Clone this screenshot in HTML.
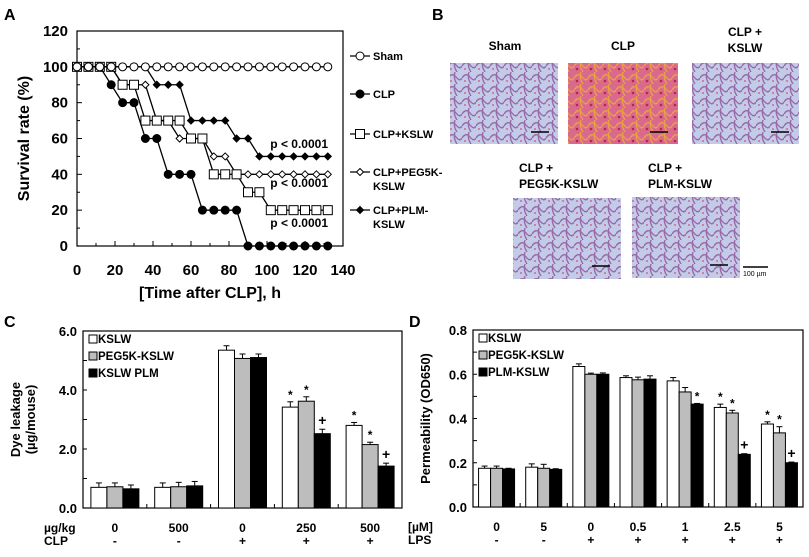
<!DOCTYPE html>
<html><head><meta charset="utf-8"><style>
body{margin:0;background:#fff}
svg{display:block;font-family:"Liberation Sans",Arial,sans-serif;font-weight:bold}
</style></head><body>
<svg id="fig" width="809" height="557" viewBox="0 0 809 557" xmlns="http://www.w3.org/2000/svg">
<defs>
<pattern id="lung" width="14" height="12" patternUnits="userSpaceOnUse">
<rect width="14" height="12" fill="#c2cbe8"/>
<path d="M0 6 Q4 0 8 5 T14 6 M7 0 Q5 6 9 12" stroke="#9a6aa8" stroke-width="1.4" fill="none"/>
<circle cx="3" cy="9" r="1" fill="#d06a8a"/>
</pattern>
<pattern id="lungR" width="14" height="12" patternUnits="userSpaceOnUse">
<rect width="14" height="12" fill="#d96a8e"/>
<path d="M0 6 Q4 0 8 5 T14 6 M7 0 Q5 6 9 12" stroke="#e8a040" stroke-width="1.4" fill="none"/>
<circle cx="3" cy="9" r="1.3" fill="#c02050"/>
</pattern>
</defs>
<g id="panelA"></g>
<g id="panelB">
<text x="432" y="20" font-size="16">B</text>
<text x="505" y="50" font-size="12" text-anchor="middle">Sham</text>
<text x="623" y="50" font-size="12" text-anchor="middle">CLP</text>
<text x="745" y="36" font-size="12" text-anchor="middle"><tspan x="745">CLP +</tspan><tspan x="745" dy="16">KSLW</tspan></text>
<text x="519" y="172" font-size="12"><tspan x="519">CLP +</tspan><tspan x="519" dy="16">PEG5K-KSLW</tspan></text>
<text x="648" y="172" font-size="12"><tspan x="648">CLP +</tspan><tspan x="648" dy="16">PLM-KSLW</tspan></text>
<rect x="450" y="63" width="108" height="81" fill="url(#lung)"/>
<rect x="568" y="63" width="110" height="81" fill="url(#lungR)"/>
<rect x="692" y="63" width="107" height="81" fill="url(#lung)"/>
<rect x="513" y="198" width="108" height="81" fill="url(#lung)"/>
<rect x="632" y="197" width="108" height="81" fill="url(#lung)"/>
<g stroke="#000" stroke-width="1.5">
<line x1="531" y1="132" x2="549" y2="132"/><line x1="650" y1="132" x2="668" y2="132"/><line x1="771" y1="132" x2="789" y2="132"/>
<line x1="592" y1="266" x2="610" y2="266"/><line x1="710" y1="265" x2="728" y2="265"/><line x1="743" y1="267" x2="768" y2="267"/>
</g>
<text x="743" y="276" font-size="7" font-weight="normal">100 µm</text>
</g>
<g id="panelC"></g>
<g id="panelD"></g>
</svg>
<script>
// ---- Panel A data ----
const timesA = [0,6,12,18,24,30,36,42,48,54,60,66,72,78,84,90,96,102,108,114,120,126,132];
const shamA = [100,100,100,100,100,100,100,100,100,100,100,100,100,100,100,100,100,100,100,100,100,100,100];
const clpA  = [100,100,100,90,80,80,60,60,40,40,40,20,20,20,20,0,0,0,0,0,0,0,0];
const kslwA = [100,100,100,100,90,90,70,70,70,70,60,60,40,40,40,30,30,20,20,20,20,20,20];
const pegA  = [100,100,100,100,90,90,90,70,70,60,60,60,50,50,40,40,40,40,40,40,40,40,40];
const plmA  = [100,100,100,100,100,100,100,90,90,90,70,70,70,70,60,60,50,50,50,50,50,50,50];
const xTicksA = [0,20,40,60,80,100,120,140];
const yTicksA = [0,20,40,60,80,100,120];
// ---- Panel C data ----
const groupsC = ["0","500","0","250","500"];
const clpC = ["-","-","+","+","+"];
const kslwC = [0.70,0.70,5.35,3.42,2.80];
const pegC  = [0.72,0.72,5.07,3.62,2.15];
const plmC  = [0.65,0.75,5.10,2.52,1.42];
const errKslwC = [0.15,0.15,0.15,0.18,0.10];
const errPegC  = [0.13,0.15,0.15,0.15,0.08];
const errPlmC  = [0.13,0.15,0.12,0.15,0.10];
const sigC = [["","",""],["","",""],["","",""],["*","*","+"],["*","*","+"]];
const yTicksC = [0,2,4,6];
// ---- Panel D data ----
const groupsD = ["0","5","0","0.5","1","2.5","5"];
const lpsD = ["-","-","+","+","+","+","+"];
const kslwD = [0.175,0.180,0.635,0.585,0.570,0.450,0.375];
const pegD  = [0.175,0.175,0.600,0.575,0.520,0.425,0.335];
const plmD  = [0.172,0.170,0.600,0.578,0.465,0.238,0.200];
const errKslwD = [0.010,0.015,0.012,0.008,0.015,0.015,0.010];
const errPegD  = [0.010,0.018,0.005,0.012,0.020,0.012,0.028];
const errPlmD  = [0.003,0.003,0.006,0.015,0.003,0.003,0.003];
const sigD = [["","",""],["","",""],["","",""],["","",""],["","","*"],["*","*","+"],["*","*","+"]];
const yTicksD = [0,0.2,0.4,0.6,0.8];

const NS="http://www.w3.org/2000/svg";
function mk(parent,tag,attrs,text){const e=document.createElementNS(NS,tag);for(const k in attrs)e.setAttribute(k,attrs[k]);if(text!==undefined)e.textContent=text;parent.appendChild(e);return e;}

// ===== Panel A =====
(function(){
const g=document.getElementById('panelA');
const L=77,R=343,T=31,B=246;
const xA=v=>L+(v/140)*(R-L), yA=v=>B-(v/120)*(B-T);
let t=mk(g,'text',{x:4,y:20,'font-size':16});
t.textContent='A';
let box=mk(g,'rect',{x:L,y:T,width:R-L,height:B-T,fill:'none',stroke:'#000','stroke-width':1.2});

for(let v=0;v<=120;v+=10){mk(g,'line',{x1:L,x2:L+(v%20?3:5),y1:yA(v),y2:yA(v),stroke:'#000'});}
yTicksA.forEach(v=>{const e=mk(g,'text',{x:L-9,y:yA(v)+5,'font-size':15,'text-anchor':'end'},v);
});
for(let v=0;v<=140;v+=10){mk(g,'line',{x1:xA(v),x2:xA(v),y1:B,y2:B-(v%20?3:5),stroke:'#000'});}
xTicksA.forEach(v=>{const e=mk(g,'text',{x:xA(v),y:B+29,'font-size':15,'text-anchor':'middle'},v);
});
let xt=mk(g,'text',{x:xA(70),y:298,'font-size':16,'text-anchor':'middle'},'[Time after CLP], h');

let yt=mk(g,'text',{x:0,y:0,'font-size':16,'text-anchor':'middle',transform:`translate(29,${(T+B)/2}) rotate(-90)`},'Survival rate (%)');

const series=[
 {d:shamA,name:'sham',shape:'circle',fill:'#fff',r:4},
 {d:clpA,name:'clp',shape:'circle',fill:'#000',r:4},
 {d:kslwA,name:'clp-kslw',shape:'square',fill:'#fff',r:4.5},
 {d:pegA,name:'clp-peg5k-kslw',shape:'diamond',fill:'#fff',r:3.5},
 {d:plmA,name:'clp-plm-kslw',shape:'diamond',fill:'#000',r:3.5}];
function marker(p,s,x,y){
 let e;
 if(s.shape==='circle') e=mk(p,'circle',{cx:x,cy:y,r:s.r,fill:s.fill,stroke:'#000','stroke-width':1});
 else if(s.shape==='square') e=mk(p,'rect',{x:x-s.r,y:y-s.r,width:2*s.r,height:2*s.r,fill:s.fill,stroke:'#000','stroke-width':1});
 else e=mk(p,'polygon',{points:`${x},${y-s.r} ${x+s.r},${y} ${x},${y+s.r} ${x-s.r},${y}`,fill:s.fill,stroke:'#000','stroke-width':1});
 return e;}
series.slice().reverse().forEach(s=>{
 const sg=mk(g,'g',{});
 
 mk(sg,'polyline',{points:s.d.map((v,i)=>xA(timesA[i])+','+yA(v)).join(' '),fill:'none',stroke:'#000','stroke-width':1.3});
 s.d.forEach((v,i)=>{const m=marker(sg,s,xA(timesA[i]),yA(v));
  });
});
[['p < 0.0001',148],['p < 0.0001',187],['p < 0.0001',227]].forEach(p=>{
 const e=mk(g,'text',{x:328,y:p[1],'font-size':12,'text-anchor':'end'},p[0]);
 });
const leg=[['Sham',56],['CLP',94],['CLP+KSLW',134],['CLP+PEG5K-|KSLW',172],['CLP+PLM-|KSLW',210]];
leg.forEach((l,i)=>{
 const lg=mk(g,'g',{});
 
 mk(lg,'line',{x1:350,x2:370,y1:l[1],y2:l[1],stroke:'#000','stroke-width':1.3});
 marker(lg,series[i],360,l[1]);
 const parts=l[0].split('|');
 const tx=mk(lg,'text',{x:373,y:l[1]+4,'font-size':11});
 mk(tx,'tspan',{x:373},parts[0]);
 if(parts[1]) mk(tx,'tspan',{x:373,dy:14},parts[1]);
});
})();

// ===== Bar chart helper =====
function barChart(cfg){
const g=document.getElementById(cfg.id);
const {L,R,T,B,max}=cfg;
const y=v=>B-(v/max)*(B-T);
const n=cfg.groups.length, gw=(R-L)/n;
const lab=mk(g,'text',{x:cfg.labX,y:cfg.labY,'font-size':16},cfg.label);

const fr=mk(g,'rect',{x:L,y:T,width:R-L,height:B-T,fill:'none',stroke:'#000','stroke-width':1.2});

const step=cfg.minor;
for(let v=0;v<=max+1e-9;v+=step) mk(g,'line',{x1:L,x2:L+4,y1:y(v),y2:y(v),stroke:'#000'});
cfg.yTicks.forEach(v=>{const e=mk(g,'text',{x:L-6,y:y(v)+5,'font-size':13,'text-anchor':'end'},v.toFixed(1));
 });
for(let i=1;i<n;i++) mk(g,'line',{x1:L+i*gw,x2:L+i*gw,y1:B,y2:B-4,stroke:'#000'});
const yt=mk(g,'text',{x:0,y:0,'font-size':13,'text-anchor':'middle',transform:`translate(${cfg.ytX},${(T+B)/2}) rotate(-90)`});

cfg.ytitle.forEach((s,i)=>mk(yt,'tspan',{x:0,dy:i?15:0},s));
const fills=['#fff','#bdbdbd','#000'];
const bw=cfg.bw;
cfg.series.forEach((s,si)=>{
 s.forEach((v,gi)=>{
  const cx=L+gw*(gi+0.5)+(si-1)*bw;
  const e=cfg.errs[si][gi];
  mk(g,'line',{x1:cx,x2:cx,y1:y(v),y2:y(v+e),stroke:'#000'});
  mk(g,'line',{x1:cx-3,x2:cx+3,y1:y(v+e),y2:y(v+e),stroke:'#000'});
  const r=mk(g,'rect',{x:cx-bw/2,y:y(v),width:bw,height:B-y(v),fill:fills[si],stroke:'#000','stroke-width':1});
  
  const sg=cfg.sig[gi][si];
  if(sg){const st=mk(g,'text',{x:cx,y:y(v+e)-(sg==='*'?3:4),'font-size':sg==='*'?12:14,'text-anchor':'middle'},sg);
   }
 });
});
const r1=mk(g,'text',{x:cfg.rowLabX,y:B+24,'font-size':12},cfg.row1);

const r2=mk(g,'text',{x:cfg.rowLabX,y:B+37,'font-size':12},cfg.row2);

cfg.groups.forEach((s,i)=>{const e=mk(g,'text',{x:L+gw*(i+0.5),y:B+24,'font-size':12,'text-anchor':'middle'},s);
 
 const f=mk(g,'text',{x:L+gw*(i+0.5),y:B+37,'font-size':12,'text-anchor':'middle'},cfg.signs[i]);
 });
cfg.legend.forEach((s,i)=>{
 const lg=mk(g,'g',{});
 const ly=T+12+i*17;
 mk(lg,'rect',{x:L+6,y:ly-8,width:8,height:8,fill:fills[i],stroke:'#000'});
 mk(lg,'text',{x:L+15,y:ly,'font-size':11.5},s);
});
}
barChart({id:'panelC',label:'C',labX:4,labY:327,L:83,R:402,T:331,B:508,max:6,minor:1,yTicks:yTicksC,bw:16,
 groups:groupsC,signs:clpC,series:[kslwC,pegC,plmC],errs:[errKslwC,errPegC,errPlmC],sig:sigC,
 names:['kslw','peg5k-kslw','kslw-plm'],ytitle:['Dye leakage','(µg/mouse)'],ytX:20,rowLabX:44,row1:'µg/kg',row2:'CLP',
 legend:['KSLW','PEG5K-KSLW','KSLW PLM']});
barChart({id:'panelD',label:'D',labX:409,labY:327,L:473,R:803,T:330,B:507,max:0.8,minor:0.1,yTicks:yTicksD,bw:12,
 groups:groupsD,signs:lpsD,series:[kslwD,pegD,plmD],errs:[errKslwD,errPegD,errPlmD],sig:sigD,
 names:['kslw','peg5k-kslw','plm-kslw'],ytitle:['Permeability (OD650)'],ytX:430,rowLabX:408,row1:'[µM]',row2:'LPS',
 legend:['KSLW','PEG5K-KSLW','PLM-KSLW']});
</script>
</body></html>
